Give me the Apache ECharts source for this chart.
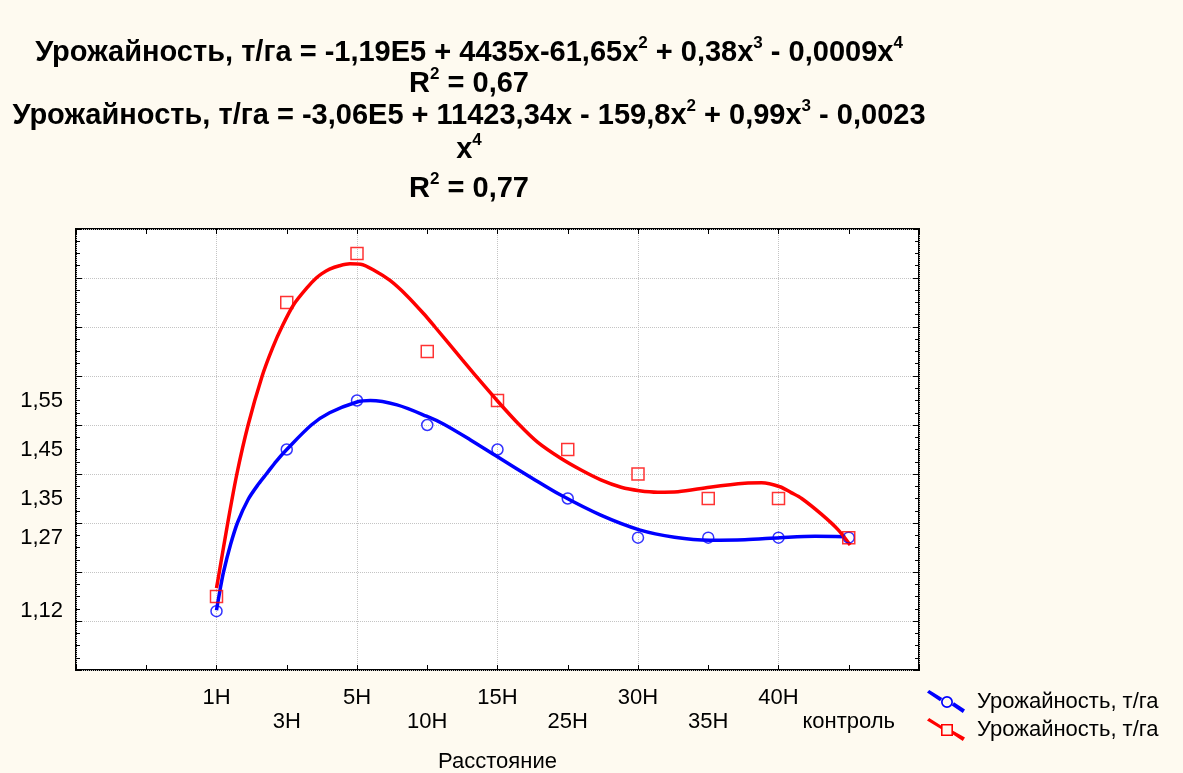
<!DOCTYPE html>
<html>
<head>
<meta charset="utf-8">
<script src="https://cdn.jsdelivr.net/npm/echarts@6/dist/echarts.min.js"></script>
<style>
html,body{margin:0;padding:0;background:#fefaf0;}
#chart{width:1183px;height:773px;}
</style>
</head>
<body>
<div id="chart"></div>
<script>
// ---- data ----
const xCategories = ['1Н','3Н','5Н','10Н','15Н','25Н','30Н','35Н','40Н','контроль'];
const yTickLabels = [1.12, 1.27, 1.35, 1.45, 1.55];
const seriesNames = ['Урожайность, т/га', 'Урожайность, т/га '];
const bluePoints = [1.12, 1.45, 1.55, 1.50, 1.45, 1.35, 1.27, 1.27, 1.27, 1.27];
const redPoints  = [1.15, 1.75, 1.85, 1.65, 1.55, 1.45, 1.40, 1.35, 1.35, 1.27];
// fitted curves (x = category position, y = value)
const blueCurveX = [1.0, 1.05, 1.1, 1.2, 1.3, 1.45, 1.6, 1.72, 1.85, 2.0, 2.35, 2.61, 3.0, 3.19, 3.57, 3.99, 4.23, 4.61, 5.0, 5.5, 5.9, 6.47, 7.02, 7.52, 8.02, 8.52, 9.02, 9.52, 9.95];
const blueCurveY = [1.122, 1.163, 1.200, 1.256, 1.301, 1.348, 1.380, 1.402, 1.426, 1.450, 1.50, 1.525, 1.547, 1.550, 1.541, 1.518, 1.502, 1.470, 1.435, 1.391, 1.357, 1.316, 1.286, 1.271, 1.265, 1.266, 1.270, 1.273, 1.272];
const redCurveX = [1.0, 1.04, 1.16, 1.29, 1.45, 1.65, 1.8, 1.93, 2.1, 2.3, 2.42, 2.5, 2.61, 2.75, 2.9, 3.05, 3.23, 3.47, 3.71, 3.95, 4.11, 4.5, 4.71, 5.0, 5.3, 5.57, 5.9, 6.19, 6.47, 6.76, 7.02, 7.28, 7.57, 8.02, 8.52, 8.76, 9.02, 9.18, 9.33, 9.61, 9.85, 10.02];
const redCurveY = [1.167, 1.20, 1.30, 1.40, 1.50, 1.60, 1.658, 1.70, 1.746, 1.782, 1.80, 1.809, 1.818, 1.825, 1.829, 1.828, 1.817, 1.795, 1.764, 1.727, 1.70, 1.633, 1.597, 1.549, 1.502, 1.465, 1.432, 1.408, 1.388, 1.373, 1.366, 1.363, 1.364, 1.373, 1.381, 1.382, 1.374, 1.362, 1.350, 1.318, 1.286, 1.255];
const titleLines = [
  'Урожайность, т/га = -1,19E5 + 4435x-61,65x{sup|2} + 0,38x{sup|3} - 0,0009x{sup|4}',
  'R{sup|2} = 0,67',
  'Урожайность, т/га = -3,06E5 + 11423,34x - 159,8x{sup|2} + 0,99x{sup|3} - 0,0023',
  'x{sup|4}',
  'R{sup|2} = 0,77'
];
const xAxisName = 'Расстояние';

// ---- build ----
const FONT = '"Liberation Sans", Arial, sans-serif';
const xPos = xCategories.map((c, i) => i + 1);
const blueScatter = bluePoints.map((v, i) => [xPos[i], v]);
const redScatter = redPoints.map((v, i) => [xPos[i], v]);
const blueCurve = blueCurveX.map((x, i) => [x, blueCurveY[i]]);
const redCurve = redCurveX.map((x, i) => [x, redCurveY[i]]);

const blueIcon = 'path://M0 2.6 L2.2 0 L15.2 8 L13 11.2 Z ' +
  'M14 12 A6 6 0 1 1 26 12 A6 6 0 1 1 14 12 Z ' +
  'M15.7 12 A4.3 4.3 0 1 0 24.3 12 A4.3 4.3 0 1 0 15.7 12 Z ' +
  'M24.8 15.5 L27 12.3 L38 19.6 L35.8 23 Z';
const redIcon = 'path://M0 2.6 L2.2 0 L14 7.4 L14 11 Z ' +
  'M14 6 L26 6 L26 18 L14 18 Z ' +
  'M15.6 7.6 L15.6 16.4 L24.4 16.4 L24.4 7.6 Z ' +
  'M26 12.8 L38 19.6 L35.8 23 L26 16.6 Z';

const titleText = {fontFamily: FONT, fontWeight: 'bold', fontSize: 29, color: '#000', lineHeight: 31.5,
  rich: {sup: {fontFamily: FONT, fontWeight: 'bold', fontSize: 17, color: '#000', padding: [0, 0, 19, 0]}}};

const chart = echarts.init(document.getElementById('chart'), null, {renderer: 'canvas'});
const tickStyle = {color: '#000', width: 1};
const option = {
  backgroundColor: '#fefaf0',
  animation: false,
  textStyle: {fontFamily: FONT},
  title: [
    {text: titleLines.slice(0, 3).join('\n'), left: 469, top: 37, padding: 0, textAlign: 'center', textStyle: titleText},
    {text: titleLines[3], left: 469, top: 134, padding: 0, textAlign: 'center', textStyle: titleText},
    {text: titleLines[4], left: 469, top: 173, padding: 0, textAlign: 'center', textStyle: titleText}
  ],
  legend: {
    orient: 'vertical',
    left: 927,
    top: 690,
    padding: 0,
    itemWidth: 38,
    itemHeight: 23,
    itemGap: 5,
    textStyle: {fontFamily: FONT, fontSize: 22, color: '#000', padding: [0, 0, 0, 7]},
    data: [
      {name: seriesNames[0], icon: blueIcon, itemStyle: {color: '#0000ff', borderWidth: 0}},
      {name: seriesNames[1], icon: redIcon, itemStyle: {color: '#ff0000', borderWidth: 0}}
    ]
  },
  grid: {
    left: 76, right: 264, top: 229, bottom: 103,
    containLabel: false, outerBoundsMode: 'none',
    show: true, backgroundColor: '#ffffff', borderColor: '#000', borderWidth: 2
  },
  xAxis: [
    {
      type: 'value', min: -1, max: 11, interval: 2, position: 'bottom',
      name: xAxisName, nameLocation: 'middle', nameGap: 81,
      nameTextStyle: {fontFamily: FONT, fontSize: 22, color: '#000'},
      axisLine: {show: false, onZero: false},
      axisTick: {show: true, inside: true, length: 5, lineStyle: tickStyle},
      minorTick: {show: true, splitNumber: 2, length: 5, lineStyle: tickStyle},
      splitLine: {show: true, lineStyle: {color: '#c4c4c4', type: 'dotted', width: 1}},
      axisLabel: {
        customValues: xPos,
        margin: 16,
        fontFamily: FONT, fontSize: 22, color: '#000', lineHeight: 24,
        formatter: function (v) {
          const i = Math.round(v) - 1;
          const n = xCategories[i];
          if (n === undefined) return '';
          return i % 2 === 1 ? '\n' + n : n;
        }
      }
    },
    {
      type: 'value', min: -1, max: 11, interval: 2, position: 'top',
      axisLine: {show: false, onZero: false},
      axisTick: {show: true, inside: true, length: 5, lineStyle: tickStyle},
      minorTick: {show: true, splitNumber: 2, length: 5, lineStyle: tickStyle},
      splitLine: {show: false},
      axisLabel: {show: false}
    }
  ],
  yAxis: [
    {
      type: 'value', min: 1.0, max: 1.9, interval: 0.1, position: 'left',
      axisLine: {show: false, onZero: false},
      axisTick: {show: true, inside: true, length: 6, lineStyle: tickStyle},
      minorTick: {show: true, splitNumber: 4, length: 4, lineStyle: tickStyle},
      splitLine: {show: true, lineStyle: {color: '#c4c4c4', type: 'dotted', width: 1}},
      axisLabel: {
        customValues: yTickLabels,
        margin: 13,
        padding: [3, 0, 0, 0],
        fontFamily: FONT, fontSize: 22, color: '#000',
        formatter: function (v) { return v.toFixed(2).replace('.', ','); }
      }
    },
    {
      type: 'value', min: 1.0, max: 1.9, interval: 0.1, position: 'right',
      axisLine: {show: false, onZero: false},
      axisTick: {show: true, inside: true, length: 6, lineStyle: tickStyle},
      minorTick: {show: true, splitNumber: 4, length: 4, lineStyle: tickStyle},
      splitLine: {show: false},
      axisLabel: {show: false}
    }
  ],
  series: [
    {
      name: seriesNames[0], type: 'line', data: blueCurve, smooth: 0.3,
      showSymbol: false, symbol: 'none', color: '#0000ff',
      lineStyle: {color: '#0000ff', width: 3.5}, z: 3
    },
    {
      name: seriesNames[1], type: 'line', data: redCurve, smooth: 0.3,
      showSymbol: false, symbol: 'none', color: '#ff0000',
      lineStyle: {color: '#ff0000', width: 3.5}, z: 3
    },
    {
      name: seriesNames[0], type: 'scatter', data: blueScatter, symbol: 'circle', symbolSize: 11,
      itemStyle: {color: 'rgba(0,0,0,0)', borderColor: '#0000ff', borderWidth: 1.5}, z: 4
    },
    {
      name: seriesNames[1], type: 'scatter', data: redScatter, symbol: 'rect', symbolSize: 12,
      itemStyle: {color: 'rgba(0,0,0,0)', borderColor: '#ff0000', borderWidth: 1.5}, z: 4
    }
  ]
};
chart.setOption(option);
</script>
</body>
</html>
